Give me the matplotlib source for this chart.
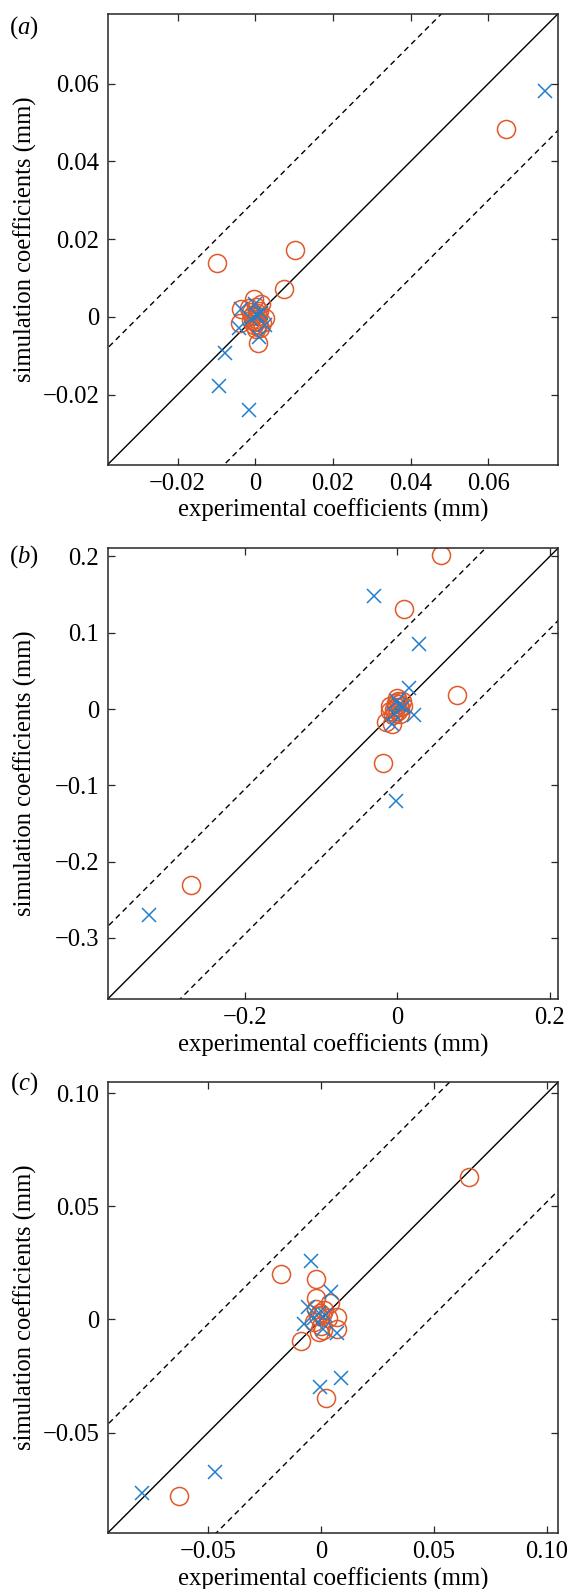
import matplotlib
matplotlib.use('Agg')
import matplotlib.pyplot as plt
import numpy as np

plt.rcParams['font.family'] = ['Liberation Serif', 'DejaVu Serif']
plt.rcParams['mathtext.fontset'] = 'custom'
plt.rcParams['mathtext.rm'] = 'Liberation Serif'
plt.rcParams['mathtext.it'] = 'Liberation Serif:italic'

# panel (a)
circ_a_x = [-0.0099, 0.0102, 0.0075, 0.0646, 0.0008, -0.0038, -0.0040, -0.0003, 0.0014, 0.0024,
            0.0004, -0.0012, 0.0006, -0.0006, 0.0010, -0.0002, 0.0003, -0.0015, 0.0018,
            -0.0008, 0.0001, -0.0004, 0.0007, -0.0010, 0.0012, 0.0002, -0.0001]
circ_a_y = [0.0138, 0.0173, 0.0072, 0.0483, -0.0066, 0.0019, -0.0016, 0.0046, 0.0032, -0.0003,
            0.0010, -0.0008, -0.0022, 0.0006, 0.0015, -0.0012, -0.0030, 0.0022, -0.0015,
            0.0003, -0.0005, -0.0020, 0.0001, 0.0012, -0.0028, 0.0026, -0.0010]
cross_a_x = [0.0746, -0.0094, -0.0078, -0.0017, 0.0009, -0.0042, -0.0038, 0.0000, 0.0026, 0.0005, -0.0010, 0.0015]
cross_a_y = [0.0580, -0.0178, -0.0092, -0.0240, -0.0051, -0.0029, 0.0019, 0.0034, -0.0020, 0.0004, -0.0006, 0.0010]

# panel (b)
circ_b_x = [0.0567, 0.0082, 0.0783, -0.0187, -0.2703, -0.0144, -0.0070, 0.0000, 0.0060, -0.0096,
            -0.0030, 0.0040, 0.0010, -0.0050, 0.0025, -0.0015, -0.0060, 0.0080, -0.0020, 0.0035,
            -0.0100, 0.0005]
circ_b_y = [0.2015, 0.1317, 0.0182, -0.0703, -0.2300, -0.0165, -0.0190, 0.0147, 0.0100, 0.0036,
            -0.0050, 0.0030, -0.0020, 0.0000, 0.0060, 0.0080, -0.0080, 0.0040, 0.0020, -0.0060,
            -0.0030, 0.0110]
cross_b_x = [-0.0302, 0.0288, 0.0158, 0.0216, -0.0024, -0.3264, -0.0070, 0.0020, -0.0040, 0.0080, 0.0000]
cross_b_y = [0.1480, 0.0850, 0.0270, -0.0076, -0.1210, -0.2700, -0.0190, 0.0050, -0.0060, 0.0020, 0.0100]

# panel (c)
circ_c_x = [0.0654, -0.0177, -0.0021, -0.0023, -0.0088, 0.0021, -0.0630, 0.0040, 0.0072, 0.0072,
            -0.0015, 0.0000, 0.0015, -0.0030, 0.0010, -0.0005, 0.0030, -0.0010, 0.0005, -0.0020]
circ_c_y = [0.0632, 0.0201, 0.0180, 0.0095, -0.0093, -0.0348, -0.0779, 0.0072, 0.0012, -0.0040,
            0.0015, -0.0030, 0.0040, -0.0010, -0.0045, 0.0030, 0.0005, -0.0055, 0.0020, 0.0045]
cross_c_x = [-0.0043, 0.0043, 0.0088, -0.0005, -0.0469, -0.0793, 0.0072, -0.0056, -0.0077, -0.0032, 0.0010, 0.0020, -0.0010]
cross_c_y = [0.0257, 0.0120, -0.0258, -0.0299, -0.0676, -0.0769, -0.0060, 0.0057, -0.0018, 0.0005, -0.0040, 0.0020, 0.0030]

lims = [(-0.038, 0.078), (-0.38, 0.211), (-0.0944, 0.105)]
offsets = [0.03, 0.095, 0.048]
yticks = [[-0.02, 0, 0.02, 0.04, 0.06],
          [-0.3, -0.2, -0.1, 0, 0.1, 0.2],
          [-0.05, 0, 0.05, 0.10]]
xticks = [[-0.02, 0, 0.02, 0.04, 0.06], [-0.2, 0, 0.2], [-0.05, 0, 0.05, 0.10]]
tick_fmt = ['%.2f', '%.1f', '%.2f']
panel_names = ['a', 'b', 'c']

blue = '#1f7fcf'
orange = '#e0592a'
W, H = 570, 1589
fig = plt.figure(figsize=(W / 100, H / 100), dpi=100)

tops = [13.6, 548, 1082]
label_y = [28, 557, 1083.5]
data = [(circ_a_x, circ_a_y, cross_a_x, cross_a_y),
        (circ_b_x, circ_b_y, cross_b_x, cross_b_y),
        (circ_c_x, circ_c_y, cross_c_x, cross_c_y)]


def fmt(v, f):
    if v == 0:
        return '0'
    s = f % abs(v)
    return ('\u2212' + s) if v < 0 else s


for i in range(3):
    left, width, height = 107.7, 450.5, 451
    ax = fig.add_axes([left / W, (H - tops[i] - height) / H, width / W, height / H])
    lo, hi = lims[i]
    d = offsets[i]
    xs = np.array([lo - 1, hi + 1])
    ax.plot(xs, xs, color='k', lw=1.0)
    ax.plot(xs, xs + d, color='k', lw=1.0, ls=(0, (4, 3)))
    ax.plot(xs, xs - d, color='k', lw=1.0, ls=(0, (4, 3)))

    cx, cy, kx, ky = data[i]
    ax.plot(cx, cy, 'o', mfc='none', mec=orange, ms=13, mew=1.1, ls='none')
    ax.plot(kx, ky, 'x', color=blue, ms=10.5, mew=1.1, ls='none')

    ax.set_xlim(lo, hi)
    ax.set_ylim(lo, hi)
    ax.set_xticks(xticks[i])
    ax.set_xticklabels([fmt(v, tick_fmt[i]) for v in xticks[i]])
    ax.set_yticks(yticks[i])
    ax.set_yticklabels([fmt(v, tick_fmt[i]) for v in yticks[i]])
    ax.tick_params(direction='in', top=True, right=True, length=5, width=0.9,
                   labelsize=17.7, color='#262626', pad=6)
    for sp in ax.spines.values():
        sp.set_color('#262626')
        sp.set_linewidth(1.1)

    ax.text(0.5, -0.102, 'experimental coefficients (mm)', transform=ax.transAxes,
            ha='center', va='center', fontsize=17.7)
    ax.text((25.6 - left) / width, 0.5, 'simulation coefficients (mm)', transform=ax.transAxes,
            ha='center', va='center', rotation=90, fontsize=17.7)
    fig.text(24 / W, 1 - label_y[i] / H, r'($\mathit{%s}$)' % panel_names[i],
             ha='center', va='center', fontsize=17.7)

fig.savefig('out.png', dpi=100)
